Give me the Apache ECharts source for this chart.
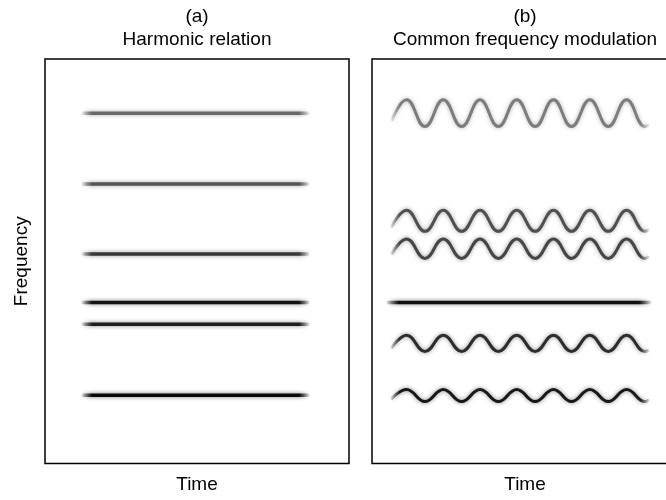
<!DOCTYPE html>
<html>
<head>
<meta charset="utf-8">
<script src="https://cdn.jsdelivr.net/npm/echarts@6/dist/echarts.min.js"></script>
<style>
  html, body { margin: 0; padding: 0; background: #fff; }
  #chart { width: 666px; height: 500px; }
</style>
</head>
<body>
<div id="chart"></div>
<script>
// ---- data ----------------------------------------------------------------
// Panel (a): steady partials, start and end time of each track
const timeA = [12.5, 86.5];
// centre frequency of each partial in panel (a), top to bottom
const freqA = [86.6, 69.1, 51.8, 39.8, 34.4, 16.9];

// Panel (b): sample times along the shared vibrato (peaks and troughs)
const timeB = [6.5, 11.3, 17.3, 23.3, 29.3, 35.3, 41.3, 47.3, 53.3, 59.3, 65.2, 71.2, 77.2, 83.2, 89.2, 90.2];
// frequency track of each modulated partial in panel (b)
const waveB1 = [85.0, 89.9, 83.3, 89.9, 83.3, 89.9, 83.3, 89.9, 83.3, 89.9, 83.3, 89.9, 83.3, 89.9, 83.3, 83.6];
const waveB2 = [58.7, 62.6, 57.4, 62.6, 57.4, 62.6, 57.4, 62.6, 57.4, 62.6, 57.4, 62.6, 57.4, 62.6, 57.4, 57.7];
const waveB3 = [51.9, 55.5, 50.7, 55.5, 50.7, 55.5, 50.7, 55.5, 50.7, 55.5, 50.7, 55.5, 50.7, 55.5, 50.7, 51.0];
const waveB4 = [28.7, 31.7, 27.7, 31.7, 27.7, 31.7, 27.7, 31.7, 27.7, 31.7, 27.7, 31.7, 27.7, 31.7, 27.7, 27.9];
const waveB5 = [16.1, 18.3, 15.3, 18.3, 15.3, 18.3, 15.3, 18.3, 15.3, 18.3, 15.3, 18.3, 15.3, 18.3, 15.3, 15.6];
// the unmodulated partial in panel (b)
const timeFlatB = [5.2, 90.8];
const freqFlatB = 39.8;

const panelTitles = ['(a)\nHarmonic relation', '(b)\nCommon frequency modulation'];
const axisNames = { time: 'Time', freq: 'Frequency' };

// ---- styling -------------------------------------------------------------
const FONT = '"Liberation Sans", Arial, sans-serif';
const toneA = [[105, 105, 105], [85, 85, 85], [55, 55, 55], [18, 18, 18], [30, 30, 30], [10, 10, 10]];
const toneB = {
  w1: [125, 125, 125], w2: [80, 80, 80], w3: [70, 70, 70],
  flat: [15, 15, 15], w4: [45, 45, 45], w5: [25, 25, 25]
};

function rgba(c, a) { return 'rgba(' + c[0] + ',' + c[1] + ',' + c[2] + ',' + a + ')'; }

// horizontal fade so each track softens at its ends
function fade(c, edge) {
  return new echarts.graphic.LinearGradient(0, 0, 1, 0, [
    { offset: 0, color: rgba(c, 0) },
    { offset: edge, color: rgba(c, 1) },
    { offset: 1 - edge, color: rgba(c, 1) },
    { offset: 1, color: rgba(c, 0) }
  ]);
}

function track(gridIdx, points, c, width, smooth, edge) {
  return {
    type: 'line',
    xAxisIndex: gridIdx,
    yAxisIndex: gridIdx,
    data: points,
    symbol: 'none',
    silent: true,
    smooth: smooth,
    animation: false,
    lineStyle: {
      color: fade(c, edge),
      width: width,
      shadowColor: rgba(c, 0.55),
      shadowBlur: 4,
      cap: 'round'
    }
  };
}

const series = [];
freqA.forEach(function (f, i) {
  series.push(track(0, timeA.map(function (t) { return [t, f]; }), toneA[i], 3.5, false, 0.05));
});
[[waveB1, toneB.w1], [waveB2, toneB.w2], [waveB3, toneB.w3], [waveB4, toneB.w4], [waveB5, toneB.w5]]
  .forEach(function (w) {
    series.push(track(1, timeB.map(function (t, k) { return [t, w[0][k]]; }), w[1], 3, 0.45, 0.04));
  });
series.push(track(1, timeFlatB.map(function (t) { return [t, freqFlatB]; }), toneB.flat, 3.5, false, 0.05));

function xAx(idx) {
  return {
    gridIndex: idx, type: 'value', min: 0, max: 100,
    name: axisNames.time, nameLocation: 'middle', nameGap: 12,
    nameTextStyle: { fontFamily: FONT, fontSize: 19, color: '#000' },
    axisLine: { show: false }, axisTick: { show: false },
    axisLabel: { show: false }, splitLine: { show: false }
  };
}
function yAx(idx, named) {
  return {
    gridIndex: idx, type: 'value', min: 0, max: 100,
    name: named ? axisNames.freq : '', nameLocation: 'middle', nameGap: 14,
    nameTextStyle: { fontFamily: FONT, fontSize: 19, color: '#000' },
    axisLine: { show: false }, axisTick: { show: false },
    axisLabel: { show: false }, splitLine: { show: false }
  };
}

const chart = echarts.init(document.getElementById('chart'), null, { renderer: 'canvas' });
chart.setOption({
  backgroundColor: '#fff',
  animation: false,
  title: [
    {
      text: panelTitles[0], left: 197, top: 5, textAlign: 'center', padding: 0,
      textStyle: { fontFamily: FONT, fontSize: 19, lineHeight: 23, fontWeight: 'normal', color: '#000' }
    },
    {
      text: panelTitles[1], left: 525, top: 5, textAlign: 'center', padding: 0,
      textStyle: { fontFamily: FONT, fontSize: 19, lineHeight: 23, fontWeight: 'normal', color: '#000' }
    }
  ],
  grid: [
    { left: 45, top: 59, width: 304, height: 404.5, show: true, borderColor: '#000', borderWidth: 1.5, backgroundColor: '#fff', outerBoundsMode: 'none' },
    { left: 372, top: 59, width: 306, height: 404.5, show: true, borderColor: '#000', borderWidth: 1.5, backgroundColor: '#fff', outerBoundsMode: 'none' }
  ],
  xAxis: [xAx(0), xAx(1)],
  yAxis: [yAx(0, true), yAx(1, false)],
  series: series
});
</script>
</body>
</html>
